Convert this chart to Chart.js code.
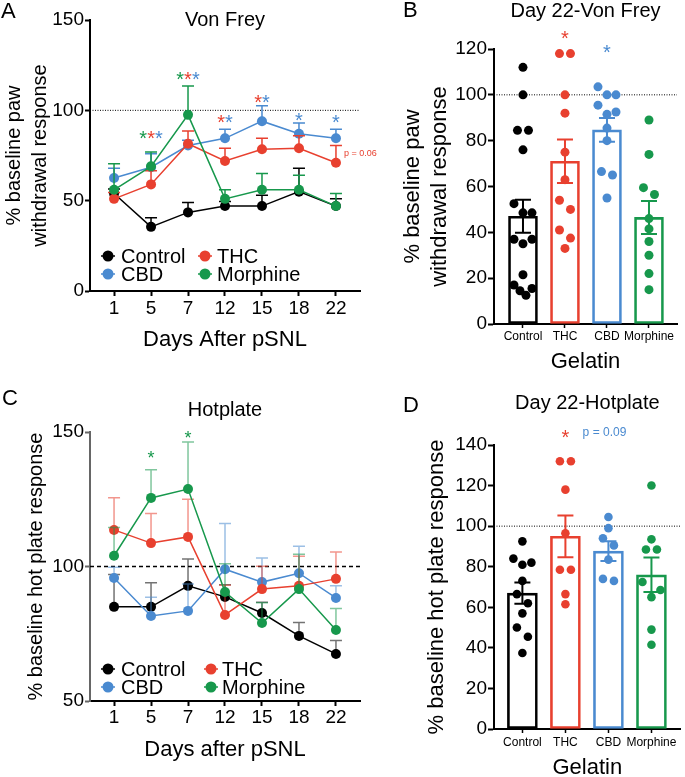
<!DOCTYPE html>
<html>
<head>
<meta charset="utf-8">
<script src="https://cdn.jsdelivr.net/npm/chart.js@4.4.1/dist/chart.umd.min.js"></script>
<style>
  body { margin: 0; background: #fff; }
  #wrap { position: relative; width: 685px; height: 777px; overflow: hidden; }
  canvas { position: absolute; }
</style>
</head>
<body>
<div id="wrap">
  <canvas id="chartA" width="380" height="372" style="left:0;top:0"></canvas>
  <canvas id="chartB" width="305" height="385" style="left:380px;top:0"></canvas>
  <canvas id="chartC" width="380" height="405" style="left:0;top:372px"></canvas>
  <canvas id="chartD" width="305" height="392" style="left:380px;top:385px"></canvas>
</div>
<script>
const FONT = "'Liberation Sans', Arial, Helvetica, sans-serif";
Chart.defaults.font.family = FONT;
Chart.defaults.color = '#000';
Chart.defaults.animation = false;

const days = ['1', '5', '7', '12', '15', '18', '22'];
const groups = ['Control', 'THC', 'CBD', 'Morphine'];
const legendOrder = ['Control', 'THC', 'CBD', 'Morphine'];
const colors = { Control: '#000000', THC: '#e8402f', CBD: '#4a8ad0', Morphine: '#17984c' };

// A - Von Frey time course (% baseline, mean + SEM)
const vfControl = [54, 35.5, 43.5, 47, 47, 55, 47];
const vfControlSem = [2.5, 5, 5.5, 2.5, 6, 13, 4];
const vfThc = [51, 59, 81.5, 72, 78.5, 79, 71];
const vfThcSem = [3.5, 7.5, 7, 7, 6, 7, 9.5];
const vfCbd = [62.5, 68.5, 80.5, 84.5, 94, 87, 84.5];
const vfCbdSem = [5.5, 7.5, 3, 5, 8.5, 6, 5];
const vfMorphine = [56, 69, 97.5, 51, 56, 56, 47];
const vfMorphineSem = [14.5, 8, 16, 5, 9, 8, 7];
const vfTicks = [0, 50, 100, 150];
// [day index, height, groups]
const vfStars = [
  [1, 87, ['Morphine', 'THC', 'CBD']],
  [2, 120, ['Morphine', 'THC', 'CBD']],
  [3, 96, ['THC', 'CBD']],
  [4, 107, ['THC', 'CBD']],
  [5, 97, ['CBD']],
  [6, 96, ['CBD']]
];
const vfNotes = [['p = 0.06', 6, 76, 'THC']];

// B - Day 22 Von Frey, individual animals
const vf22Mean = [47, 71, 84.7, 46.5];
const vf22Sem = [7.2, 9.5, 5.2, 7.2];
const vf22Control = [112, 100, 84.5, 84.5, 76, 52.5, 48.5, 48.5, 37, 37, 35, 21.5, 17, 15.5, 14.5, 12.5];
const vf22Thc = [118, 118, 100, 92, 75, 63, 54, 50, 41, 37.5, 33];
const vf22Cbd = [103.5, 100, 100, 95.5, 92.5, 91.5, 85.5, 80, 66.5, 65, 55];
const vf22Morphine = [89, 74, 59.5, 56.5, 46, 41.5, 36, 30, 22, 15];
const vf22Ticks = [0, 20, 40, 60, 80, 100, 120];
const vf22Stars = [[1, 127, ['THC']], [2, 120.5, ['CBD']]];

// C - Hotplate time course
const hpControl = [85, 85, 92.8, 88.7, 82.7, 74.2, 67.5];
const hpControlSem = [12, 9, 10, 4.5, 4, 5, 5];
const hpThc = [113.6, 108.7, 111, 82, 91.6, 92.8, 95.4];
const hpThcSem = [12, 11, 14, 11, 8.5, 11, 10];
const hpCbd = [95.7, 81.6, 83.5, 99, 94.2, 97.5, 88.3];
const hpCbdSem = [4, 7, 10, 17, 9, 10, 4.5];
const hpMorphine = [104, 125.5, 128.8, 90.5, 79, 91.6, 76.4];
const hpMorphineSem = [10.5, 10.5, 17.5, 10.5, 7.5, 13, 8];
const hpTicks = [50, 100, 150];
const hpStars = [[1, 142, ['Morphine']], [2, 149.6, ['Morphine']]];

// D - Day 22 hotplate, individual animals
const hp22Mean = [67, 95, 87.7, 76];
const hp22Sem = [5.2, 10.3, 4.9, 8.5];
const hp22Control = [92.5, 84, 82, 81, 73, 66.5, 62, 57, 50, 45.5, 37.5];
const hp22Thc = [132, 132, 118, 96.5, 78.5, 78.5, 66.5, 61.5];
const hp22Cbd = [104.5, 99, 94, 90.5, 83.5, 74, 73];
const hp22Morphine = [120, 93.5, 88.5, 88.5, 72.5, 68.5, 65, 49, 41.5];
const hp22Ticks = [0, 20, 40, 60, 80, 100, 120, 140];
const hp22Stars = [[1, 146, ['THC']]];
const hp22Notes = [['p = 0.09', 1.4, 146, 'CBD']];


// spreads overlapping dots sideways, like a scatter dot plot
const swarm = {
  id: 'swarm',
  afterDatasetUpdate(chart, args) {
    const meta = args.meta;
    if (meta.type !== 'scatter') return;
    const pts = meta.data.slice().sort((a, b) => a.y - b.y);
    let cluster = [];
    const flush = () => {
      const n = cluster.length;
      if (n > 1) {
        const dx = Math.min(11, 18 / (n - 1));
        const slots = [];
        let l = 0, r = n - 1;
        while (l <= r) { slots.push(l++); if (l <= r) slots.push(r--); }
        cluster.forEach((p, k) => { p.x += (slots[k] - (n - 1) / 2) * dx; });
      }
      cluster = [];
    };
    pts.forEach(p => {
      if (cluster.length && p.y - cluster[cluster.length - 1].y >= 9.5) flush();
      cluster.push(p);
    });
    flush();
  }
};

function decor(cfg) {
  return {
    id: 'decor',
    beforeDatasetsDraw(chart) {
      const { ctx, chartArea: a, scales: { y } } = chart;
      const py = y.getPixelForValue(100);
      ctx.save();
      ctx.strokeStyle = '#000';
      ctx.lineWidth = cfg.refWidth;
      ctx.setLineDash(cfg.refDash);
      ctx.beginPath();
      ctx.moveTo(a.left, py);
      ctx.lineTo(a.right, py);
      ctx.stroke();
      ctx.restore();
    },
    beforeDatasetDraw(chart, args) {
      const ds = chart.data.datasets[args.index];
      if (!ds.sem) return;
      const { ctx, scales: { y } } = chart;
      const meta = chart.getDatasetMeta(args.index);
      ctx.save();
      ctx.globalAlpha = cfg.errAlpha;
      ctx.lineWidth = cfg.errWidth;
      meta.data.forEach((el, i) => {
        const v = ds.data[i].y, e = ds.sem[i];
        const top = y.getPixelForValue(v + e);
        const bot = cfg.errBoth ? y.getPixelForValue(v - e) : el.y;
        ctx.strokeStyle = Array.isArray(ds.borderColor) ? ds.borderColor[i] : ds.borderColor;
        ctx.beginPath();
        ctx.moveTo(el.x, bot);
        ctx.lineTo(el.x, top);
        ctx.moveTo(el.x - cfg.cap, top);
        ctx.lineTo(el.x + cfg.cap, top);
        if (cfg.errBoth) {
          ctx.moveTo(el.x - cfg.cap, bot);
          ctx.lineTo(el.x + cfg.cap, bot);
        }
        ctx.stroke();
      });
      ctx.restore();
    },
    afterDraw(chart) {
      const { ctx, chartArea: a, scales: { x, y } } = chart;
      ctx.save();
      ctx.fillStyle = '#000';
      ctx.textBaseline = 'alphabetic';
      // panel letter + title
      ctx.font = '22px ' + FONT;
      ctx.textAlign = 'left';
      ctx.fillText(cfg.letter, cfg.letterX, cfg.letterY);
      ctx.font = '20px ' + FONT;
      ctx.textAlign = 'center';
      ctx.fillText(cfg.title, (a.left + a.right) / 2, cfg.titleY);
      // significance stars
      ctx.font = cfg.starSize + 'px ' + FONT;
      const w = ctx.measureText('*').width;
      (cfg.stars || []).forEach(([idx, val, who]) => {
        let sx = x.getPixelForValue(idx) - w * who.length / 2;
        const sy = y.getPixelForValue(val) + cfg.starSize * 0.58;
        ctx.textAlign = 'left';
        who.forEach(g => {
          ctx.fillStyle = colors[g];
          ctx.fillText('*', sx, sy);
          sx += w;
        });
      });
      (cfg.notes || []).forEach(([text, idx, val, g]) => {
        ctx.font = cfg.noteSize + 'px ' + FONT;
        ctx.fillStyle = colors[g];
        ctx.textAlign = 'left';
        ctx.textBaseline = 'middle';
        ctx.fillText(text, x.getPixelForValue(idx) + cfg.noteDx, y.getPixelForValue(val));
      });
      // legend, two columns
      if (cfg.legend) {
        const L = cfg.legend;
        ctx.font = '20px ' + FONT;
        ctx.textBaseline = 'middle';
        legendOrder.forEach((g, k) => {
          const col = k % 2, row = Math.floor(k / 2);
          const mx = L.marker[col], my = L.rows[row];
          ctx.strokeStyle = colors[g];
          ctx.fillStyle = colors[g];
          ctx.lineWidth = 1.5;
          ctx.beginPath();
          ctx.moveTo(mx - 7, my);
          ctx.lineTo(mx + 7, my);
          ctx.stroke();
          ctx.beginPath();
          ctx.arc(mx, my, 5.5, 0, Math.PI * 2);
          ctx.fill();
          ctx.fillStyle = '#000';
          ctx.textAlign = 'left';
          ctx.fillText(g, L.text[col], my + 1);
        });
      }
      ctx.restore();
    }
  };
}

function yAxis(o) {
  return {
    position: 'left',
    min: o.ticks[0],
    max: o.ticks[o.ticks.length - 1],
    afterBuildTicks: s => { s.ticks = o.ticks.map(v => ({ value: v })); },
    afterFit: s => { s.width = o.width; },
    ticks: { font: { size: 19 }, padding: 1, color: '#000' },
    grid: { drawOnChartArea: false, tickLength: o.tickLength, tickColor: o.color, tickWidth: 2 },
    border: { display: true, color: o.color, width: 2 },
    title: {
      display: true, text: o.title, color: '#000',
      font: { size: o.titleSize, lineHeight: o.titleLine },
      padding: { top: o.titlePad, bottom: 0 }
    }
  };
}

function xAxis(o) {
  return {
    type: 'linear',
    position: 'bottom',
    offset: false,
    min: o.min,
    max: o.max,
    afterBuildTicks: s => { s.ticks = o.labels.map((d, i) => ({ value: i })); },
    afterFit: s => { s.height = o.height; },
    ticks: {
      callback: (v, i) => o.labels[i], font: { size: o.tickSize }, padding: o.tickPad,
      color: '#000', maxRotation: 0, autoSkip: false
    },
    grid: { offset: false, drawOnChartArea: false, tickLength: o.tickLength, tickColor: '#000', tickWidth: o.tickWidth },
    border: { display: true, color: '#000', width: 2 },
    title: { display: true, text: o.title, color: '#000', font: { size: 22 }, padding: { top: 0, bottom: o.titlePad } }
  };
}

function lineSeries(name, values, sem, order) {
  return {
    label: name,
    data: values.map((v, i) => ({ x: i, y: v })),
    sem: sem,
    borderColor: colors[name],
    backgroundColor: colors[name],
    borderWidth: 1.5,
    pointRadius: 5,
    pointHoverRadius: 5,
    pointBorderWidth: 0,
    order: order
  };
}

function barSet(means, sem, thickness) {
  return {
    type: 'bar',
    data: means.map((v, i) => ({ x: i, y: v })),
    sem: sem,
    borderColor: groups.map(g => colors[g]),
    backgroundColor: 'rgba(255,255,255,0)',
    borderWidth: 2,
    borderSkipped: false,
    barThickness: thickness,
    order: 5
  };
}

function dotSet(values, idx, radius) {
  const g = groups[idx];
  return {
    type: 'scatter',
    label: g,
    data: values.map(v => ({ x: idx, y: v })),
    backgroundColor: colors[g],
    borderWidth: 0,
    pointRadius: radius,
    pointHoverRadius: radius,
    clip: false,
    order: 1
  };
}

// ---- A ----
new Chart(document.getElementById('chartA'), {
  type: 'line',
  data: {
    datasets: [
      lineSeries('Control', vfControl, vfControlSem, 4),
      lineSeries('CBD', vfCbd, vfCbdSem, 3),
      lineSeries('THC', vfThc, vfThcSem, 2),
      lineSeries('Morphine', vfMorphine, vfMorphineSem, 1)
    ]
  },
  options: {
    responsive: false,
    events: [],
    layout: { padding: { left: 0, top: 20, right: 20, bottom: 19 } },
    scales: {
      x: xAxis({ min: -0.65, max: 6.65, labels: days, height: 62, tickSize: 19, tickPad: 1, tickLength: 5, tickWidth: 2, title: 'Days After pSNL', titlePad: 0 }),
      y: yAxis({ ticks: vfTicks, width: 90, tickLength: 5, color: '#000', title: ['% baseline paw', 'withdrawal response'], titleSize: 20, titleLine: 1.3, titlePad: 1 })
    },
    plugins: { legend: { display: false }, tooltip: { enabled: false } }
  },
  plugins: [decor({
    refWidth: 1, refDash: [1, 1.5], errAlpha: 1, errWidth: 1.5, errBoth: false, cap: 6,
    letter: 'A', letterX: 1, letterY: 18, title: 'Von Frey', titleY: 26,
    stars: vfStars, starSize: 20, notes: vfNotes, noteSize: 9, noteDx: 8,
    legend: { marker: [108, 205], text: [121, 217], rows: [256, 274] }
  })]
});

// ---- B ----
new Chart(document.getElementById('chartB'), {
  type: 'bar',
  data: {
    datasets: [
      barSet(vf22Mean, vf22Sem, 29),
      dotSet(vf22Control, 0, 4.5),
      dotSet(vf22Thc, 1, 4.5),
      dotSet(vf22Cbd, 2, 4.5),
      dotSet(vf22Morphine, 3, 4.5)
    ]
  },
  options: {
    responsive: false,
    events: [],
    layout: { padding: { left: 0, top: 49, right: 8, bottom: 10 } },
    scales: {
      x: xAxis({ min: -0.69, max: 3.667, labels: groups, height: 51, tickSize: 12, tickPad: 1, tickLength: 4, tickWidth: 1.5, title: 'Gelatin', titlePad: 0 }),
      y: yAxis({ ticks: vf22Ticks, width: 114, tickLength: 6, color: '#000', title: ['% baseline paw', 'withdrawal response'], titleSize: 22, titleLine: 1.23, titlePad: 19 })
    },
    plugins: { legend: { display: false }, tooltip: { enabled: false } }
  },
  plugins: [swarm, decor({
    refWidth: 1, refDash: [1, 1.5], errAlpha: 1, errWidth: 2, errBoth: true, cap: 8,
    letter: 'B', letterX: 23, letterY: 17, title: 'Day 22-Von Frey', titleY: 17,
    stars: vf22Stars, starSize: 20
  })]
});

// ---- C ----
new Chart(document.getElementById('chartC'), {
  type: 'line',
  data: {
    datasets: [
      lineSeries('Control', hpControl, hpControlSem, 4),
      lineSeries('CBD', hpCbd, hpCbdSem, 3),
      lineSeries('THC', hpThc, hpThcSem, 2),
      lineSeries('Morphine', hpMorphine, hpMorphineSem, 1)
    ]
  },
  options: {
    responsive: false,
    events: [],
    layout: { padding: { left: 0, top: 60, right: 20, bottom: 14 } },
    scales: {
      x: xAxis({ min: -0.65, max: 6.65, labels: days, height: 62, tickSize: 19, tickPad: 0, tickLength: 5, tickWidth: 2, title: 'Days after pSNL', titlePad: 0 }),
      y: yAxis({ ticks: hpTicks, width: 90, tickLength: 5, color: '#666', title: '% baseline hot plate response', titleSize: 20, titleLine: 1.2, titlePad: 24 })
    },
    plugins: { legend: { display: false }, tooltip: { enabled: false } }
  },
  plugins: [decor({
    refWidth: 1.5, refDash: [4, 3], errAlpha: 0.55, errWidth: 1.5, errBoth: false, cap: 6,
    letter: 'C', letterX: 2, letterY: 33, title: 'Hotplate', titleY: 44,
    stars: hpStars, starSize: 18,
    legend: { marker: [108, 211], text: [121, 222], rows: [297, 315] }
  })]
});

// ---- D ----
new Chart(document.getElementById('chartD'), {
  type: 'bar',
  data: {
    datasets: [
      barSet(hp22Mean, hp22Sem, 30),
      dotSet(hp22Control, 0, 4.3),
      dotSet(hp22Thc, 1, 4.3),
      dotSet(hp22Cbd, 2, 4.3),
      dotSet(hp22Morphine, 3, 4.3)
    ]
  },
  options: {
    responsive: false,
    events: [],
    layout: { padding: { left: 0, top: 60, right: 0, bottom: 0 } },
    scales: {
      x: xAxis({ min: -0.66, max: 3.68, labels: groups, height: 48, tickSize: 12, tickPad: 2, tickLength: 4, tickWidth: 1.5, title: 'Gelatin', titlePad: -4 }),
      y: yAxis({ ticks: hp22Ticks, width: 114, tickLength: 6, color: '#000', title: '% baseline hot plate response', titleSize: 22, titleLine: 1.2, titlePad: 44 })
    },
    plugins: { legend: { display: false }, tooltip: { enabled: false } }
  },
  plugins: [swarm, decor({
    refWidth: 1, refDash: [1, 1.5], errAlpha: 1, errWidth: 2, errBoth: true, cap: 8,
    letter: 'D', letterX: 23, letterY: 27, title: 'Day 22-Hotplate', titleY: 24,
    stars: hp22Stars, starSize: 20, notes: hp22Notes, noteSize: 12, noteDx: 0
  })]
});
</script>
</body>
</html>
